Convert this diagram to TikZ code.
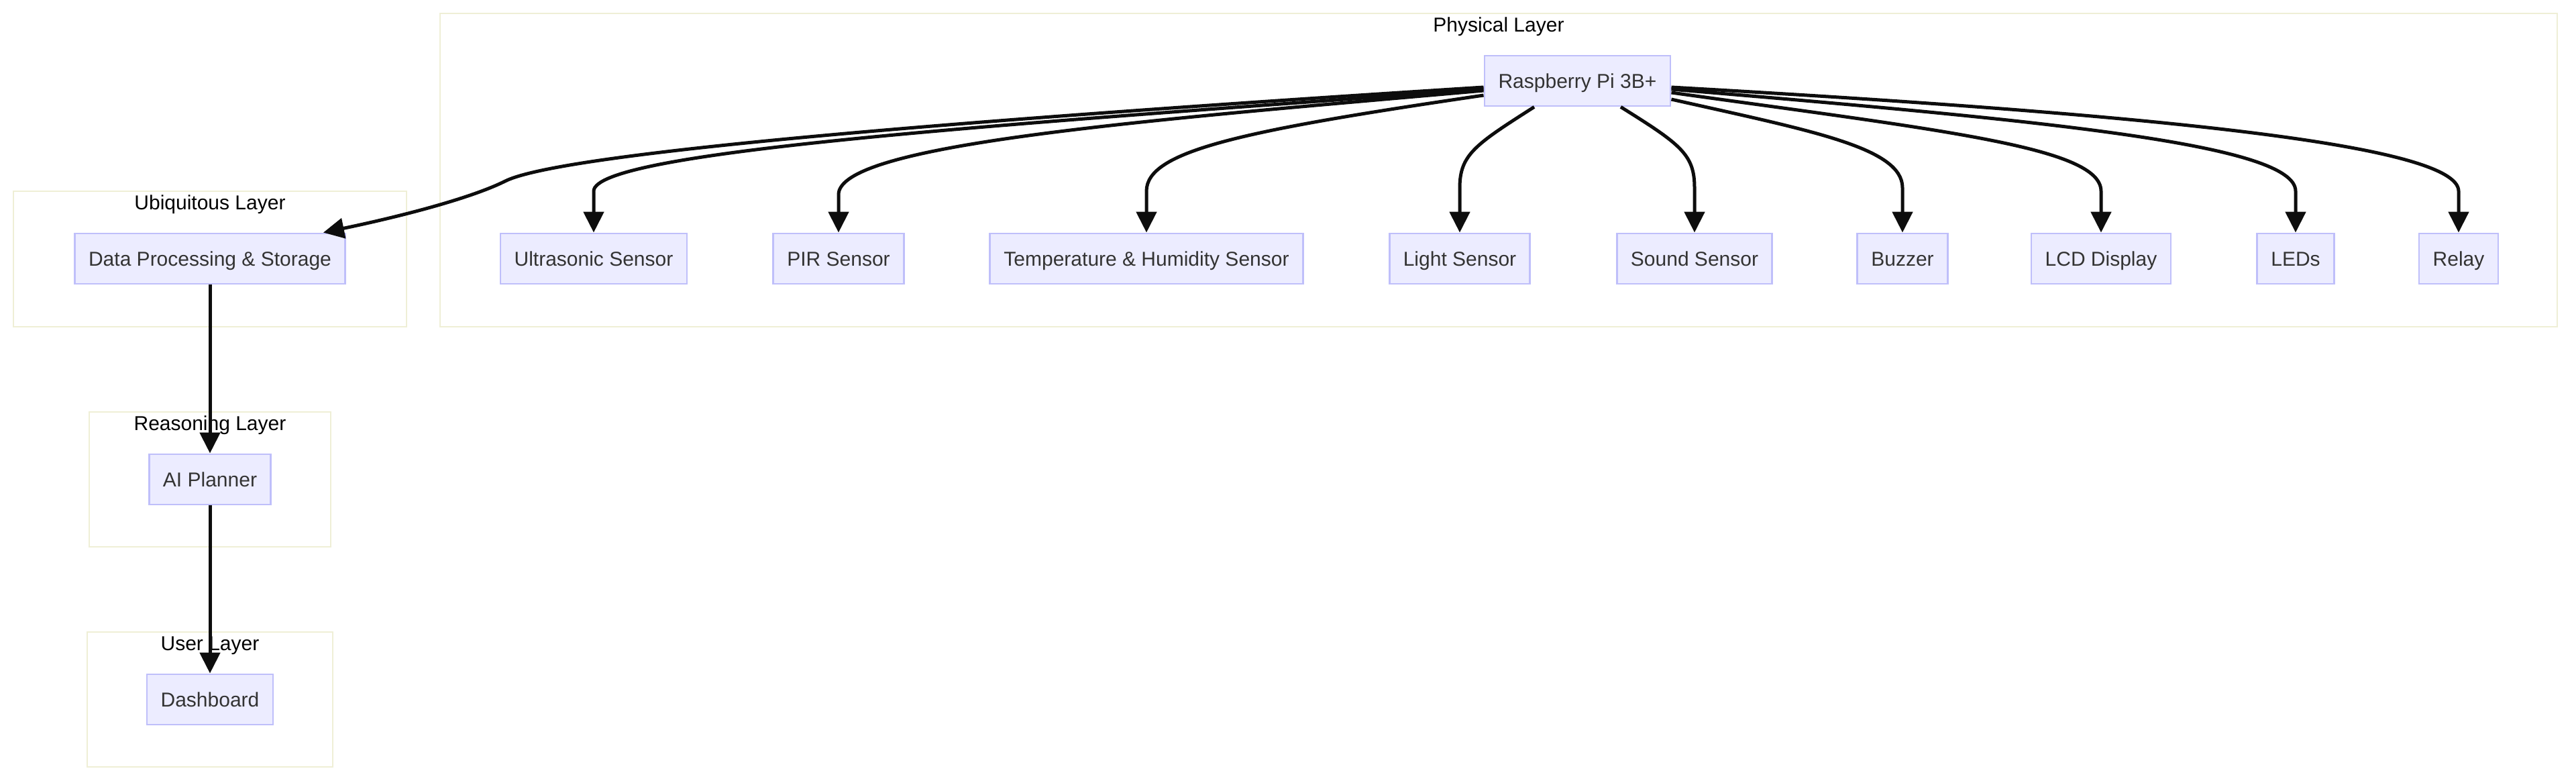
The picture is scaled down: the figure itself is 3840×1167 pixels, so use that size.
\documentclass[tikz,border=0pt]{standalone}
\usepackage{fontspec}
\setmainfont{Liberation Sans}
\usepackage{xcolor}
\usetikzlibrary{arrows.meta}

\definecolor{boxfill}{HTML}{ECECFF}
\definecolor{boxline}{HTML}{BFBFFA}
\definecolor{layerline}{HTML}{EFEFD6}
\definecolor{boxtext}{HTML}{333333}

\begin{document}
\begin{tikzpicture}[x=0.5pt, y=-0.5pt,
    every node/.style={font=\fontsize{15pt}{18pt}\selectfont, text height=12pt, text depth=1.26pt},
    box/.style={draw=boxline, fill=boxfill, line width=1.4pt, text=boxtext,
        minimum height=37.5pt, inner xsep=10.3pt},
    layer/.style={draw=layerline, line width=1.4pt},
    link/.style={line width=2.5pt, draw=black!95,
        -{Triangle[length=15.5pt,width=15pt]}}]
    \useasboundingbox (0,0) rectangle (3840,1167);

    % Layers
    \draw[layer] (656,20) rectangle (3812,487);
    \draw[layer] (20,285) rectangle (606,487);
    \draw[layer] (133,614) rectangle (493,815);
    \draw[layer] (130,942) rectangle (496,1143);
    \node (physT) at (2234,37) {Physical Layer};
    \node (ubiqT) at (313,302) {Ubiquitous Layer};
    \node (reasT) at (313,631) {Reasoning Layer};
    \node (userT) at (313,959) {User Layer};

    % Physical layer
    \node[box] (pi) at (2351.5,120.5) {Raspberry Pi 3B+};
    \node[box] (ultra) at (885,385.5) {Ultrasonic Sensor};
    \node[box] (pir) at (1250,385.5) {PIR Sensor};
    \node[box] (temp) at (1709,385.5) {Temperature \& Humidity Sensor};
    \node[box] (light) at (2176,385.5) {Light Sensor};
    \node[box] (sound) at (2526,385.5) {Sound Sensor};
    \node[box] (buzzer) at (2836,385.5) {Buzzer};
    \node[box] (lcd) at (3132,385.5) {LCD Display};
    \node[box] (leds) at (3422,385.5) {LEDs};
    \node[box] (relay) at (3665,385.5) {Relay};

    % Other layers
    \node[box] (data) at (313,385.5) {Data Processing \& Storage};
    \node[box] (ai) at (313,714.5) {AI Planner};
    \node[box] (dash) at (313,1042.5) {Dashboard};

    % Links to the left
    \draw[link] ([yshift=-4.75pt]pi.west) .. controls (1500,175) and (843,225) .. (753,270)
        .. controls (703,295) and (600,322) .. ([xshift=-17pt]data.north east);
    \draw[link] ([yshift=-6.25pt]pi.west) .. controls (1500,185) and (885,225) .. (885,285) -- (ultra.north);
    \draw[link] ([yshift=-7.25pt]pi.west) .. controls (1700,180) and (1250,215) .. (1250,290) -- (pir.north);
    \draw[link] ([yshift=-10.75pt]pi.west) .. controls (1850,195) and (1709,225) .. (1709,285) -- (temp.north);

    % Links below
    \draw[link] ([xshift=-32.25pt]pi.south) .. controls (2200,215) and (2176,230) .. (2176,280) -- (light.north);
    \draw[link] ([xshift=32.25pt]pi.south) .. controls (2505,215) and (2526,230) .. (2526,280) -- (sound.north);

    % Links to the right
    \draw[link] ([yshift=-13.75pt]pi.east) .. controls (2700,195) and (2836,220) .. (2836,280) -- (buzzer.north);
    \draw[link] ([yshift=-8.75pt]pi.east) .. controls (2900,195) and (3132,220) .. (3132,285) -- (lcd.north);
    \draw[link] ([yshift=-6.25pt]pi.east) .. controls (3050,180) and (3422,215) .. (3422,285) -- (leds.north);
    \draw[link] ([yshift=-4.75pt]pi.east) .. controls (3200,170) and (3665,215) .. (3665,285) -- (relay.north);

    % Down the stack
    \draw[link] (data) -- (ai);
    \draw[link] (ai) -- (dash);
\end{tikzpicture}
\end{document}
